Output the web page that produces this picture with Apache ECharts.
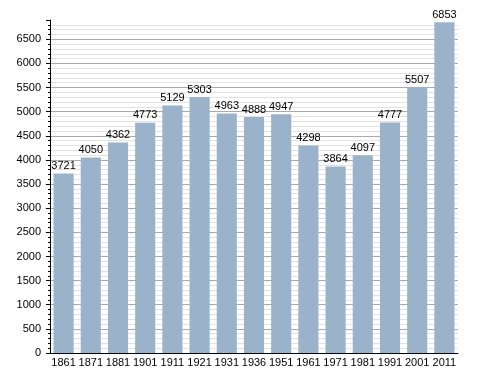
<!DOCTYPE html>
<html><head><meta charset="utf-8">
<script src="https://cdn.jsdelivr.net/npm/echarts@6/dist/echarts.min.js"></script>
<style>html,body{margin:0;padding:0;background:#fff}#c{width:488px;height:373px}</style>
</head><body><div id="c"></div>
<script>
const years = ['1861','1871','1881','1901','1911','1921','1931','1936','1951','1961','1971','1981','1991','2001','2011'];
const population = [3721,4050,4362,4773,5129,5303,4963,4888,4947,4298,3864,4097,4777,5507,6853];
const chart = echarts.init(document.getElementById('c'), null, {renderer:'canvas'});
chart.setOption({
  animation:false,
  backgroundColor:'#fff',
  grid:{left:50,right:30,top:20,bottom:20,containLabel:false},
  xAxis:{type:'category',data:years,
    axisLine:{lineStyle:{color:'#000',width:1}},
    axisTick:{show:false},
    axisLabel:{interval:0,color:'#000',fontSize:11,fontFamily:'Liberation Sans, Arial, sans-serif',margin:4}
  },
  yAxis:{type:'value',min:0,max:6900,interval:500,
    axisLine:{show:true,lineStyle:{color:'#000',width:1}},
    axisTick:{show:true,length:4,lineStyle:{color:'#000'}},
    minorTick:{show:true,splitNumber:5,length:2,lineStyle:{color:'#000'}},
    axisLabel:{color:'#000',fontSize:11,fontFamily:'Liberation Sans, Arial, sans-serif',margin:9,
      formatter:v=> (v%500===0? String(v):'')},
    splitLine:{show:true,showMaxLine:false,lineStyle:{color:'#aaaaaa',width:1}},
    minorSplitLine:{show:true,lineStyle:{color:'#e2e2e2',width:1}}
  },
  series:[{type:'bar',data:population,barCategoryGap:'26%',
    itemStyle:{color:'#9bb2cb'},
    label:{show:true,position:'top',distance:2,color:'#000',fontSize:11,fontFamily:'Liberation Sans, Arial, sans-serif'}
  }]
});
</script></body></html>
